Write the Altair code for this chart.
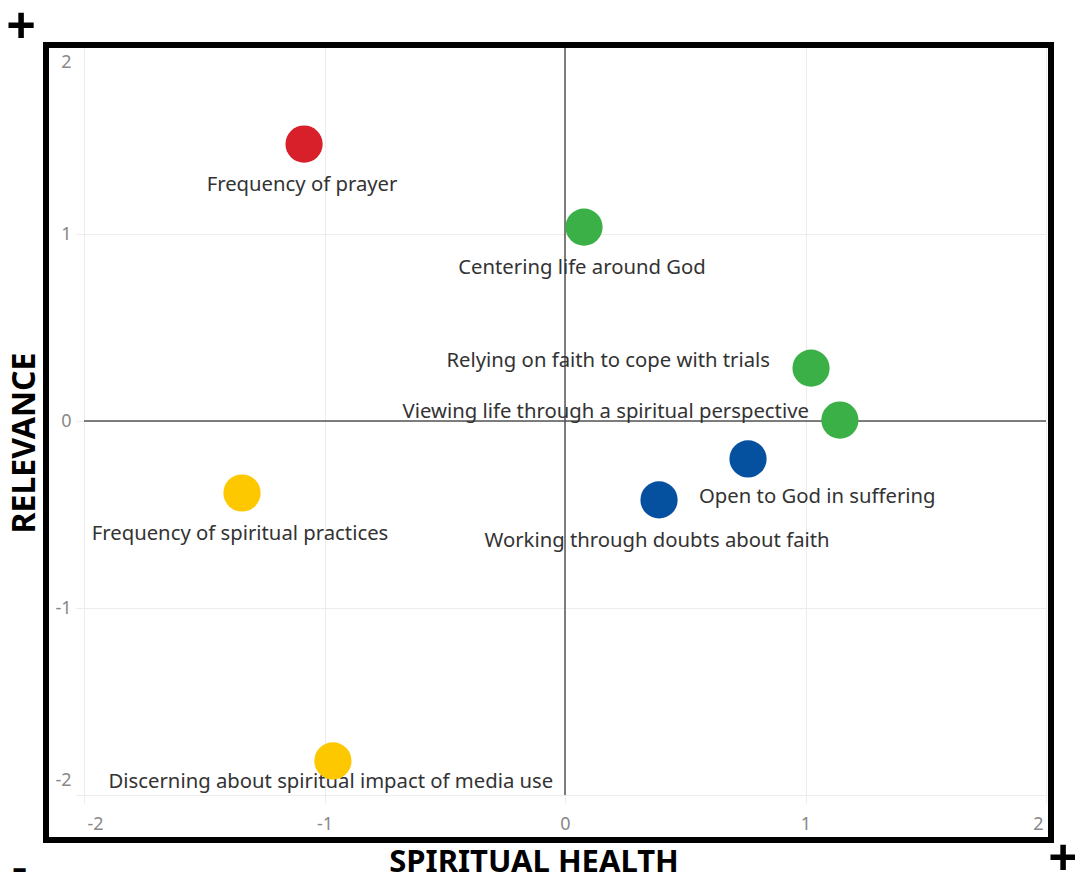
import altair as alt
import pandas as pd

names = [
    "Frequency of prayer",
    "Centering life around God",
    "Relying on faith to cope with trials",
    "Viewing life through a spiritual perspective",
    "Open to God in suffering",
    "Working through doubts about faith",
    "Frequency of spiritual practices",
    "Discerning about spiritual impact of media use",
]
spiritual_health = [-1.085, 0.079, 1.023, 1.143, 0.761, 0.391, -1.343, -0.965]
relevance = [1.481, 1.037, 0.283, 0.005, -0.203, -0.422, -0.385, -1.818]
groups = ["red", "green", "green", "green", "blue", "blue", "yellow", "yellow"]
group_domain = ["red", "green", "blue", "yellow"]
group_range = ["#d7202a", "#3ab046", "#0650a0", "#fec800"]
tick_values = [-2, -1, 0, 1, 2]

df = pd.DataFrame({
    "name": names,
    "health": spiritual_health,
    "relevance": relevance,
    "group": groups,
})
one = pd.DataFrame({"a": [0]})

FONT = "Noto Sans"
W, H = 962, 748

xs = alt.Scale(domain=[-2, 2], nice=False, zero=False)
ys = alt.Scale(domain=[-2, 2], nice=False, zero=False)

x_axis = alt.Axis(
    values=tick_values, labelExpr="'' + datum.value", grid=True, gridColor="#ececec",
    domain=False, ticks=True, tickColor="#ececec", tickSize=8,
    labelFlush=True, labelFlushOffset=-3, labelFontSize=18, labelColor="#888888",
    labelFont=FONT, labelPadding=12,
    title="SPIRITUAL HEALTH", titleFont=FONT, titleFontSize=31, titleFontWeight="bold",
    titleColor="black", titleX=449.5, titleY=67, titleAlign="center",
    titleBaseline="middle",
)
y_axis = alt.Axis(
    values=tick_values, labelExpr="'' + datum.value", grid=True, gridColor="#ececec",
    domain=False, ticks=True, tickColor="#ececec", tickSize=8,
    labelFlush=True, labelFlushOffset=-6, labelFontSize=18, labelColor="#888888",
    labelFont=FONT, labelPadding=5,
    title="RELEVANCE", titleFont=FONT, titleFontSize=32, titleFontWeight="bold",
    titleColor="black", titleX=-60, titleY=395.5, titleAngle=270, titleAlign="center",
    titleBaseline="middle",
)

base = alt.Chart(df)

vrule = alt.Chart(one).mark_rule(color="#555555", strokeWidth=1.5).encode(
    x=alt.datum(0, scale=xs)
)
hrule = alt.Chart(one).mark_rule(color="#555555", strokeWidth=1.5).encode(
    y=alt.datum(0, scale=ys)
)


def label_layer(subset, align, dx, dy):
    return base.transform_filter(
        alt.FieldOneOfPredicate(field="name", oneOf=subset)
    ).mark_text(
        font=FONT, fontSize=20.3, color="#333333", align=align, baseline="alphabetic",
        dx=dx, dy=dy,
    ).encode(
        x=alt.X("health:Q", scale=xs),
        y=alt.Y("relevance:Q", scale=ys),
        text="name:N",
    )


labels = [
    label_layer([names[0], names[1], names[5], names[6]], "center", -2, 47),
    label_layer([names[7]], "center", -2, 27),
    label_layer([names[2]], "right", -41, -1),
    label_layer([names[3]], "right", -31, -2),
    label_layer([names[4]], "left", -49, 44),
]

points = base.mark_circle(size=1385, opacity=1).encode(
    x=alt.X("health:Q", scale=xs, axis=x_axis),
    y=alt.Y("relevance:Q", scale=ys, axis=y_axis),
    color=alt.Color("group:N", scale=alt.Scale(domain=group_domain, range=group_range),
                    legend=None),
    tooltip=["name:N", "health:Q", "relevance:Q"],
)

frame = alt.Chart(one).mark_rect(filled=False, stroke="black", strokeWidth=6).encode(
    x=alt.value(-38), x2=alt.value(967), y=alt.value(-2), y2=alt.value(793)
)


def sign(txt, x, y, size):
    return alt.Chart(one).mark_text(
        font=FONT, fontSize=size, fontWeight="bold", color="black",
        align="center", baseline="middle",
    ).encode(x=alt.value(x), y=alt.value(y), text=alt.value(txt))


signs = [sign("+", -63, -19, 52), sign("-", -64.5, 823, 46), sign("+", 979, 813, 52)]

chart = alt.layer(
    vrule, hrule, *labels, points, frame, *signs
).properties(
    width=W, height=H,
    autosize=alt.AutoSizeParams(type="none"),
    padding={"left": 76, "top": 39, "right": 29, "bottom": 77},
).configure_view(stroke=None)

chart.save("out.html", embed_options={"renderer": "svg", "actions": False})
